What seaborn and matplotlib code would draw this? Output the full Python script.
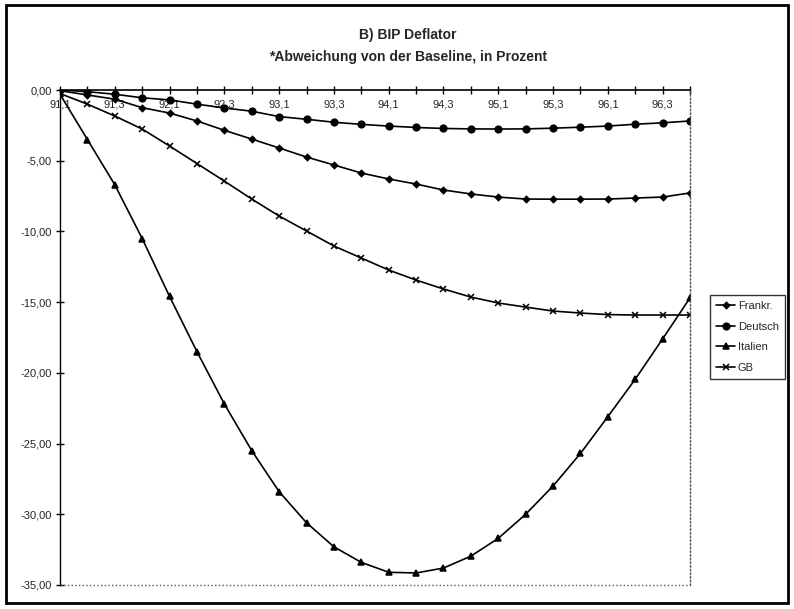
import matplotlib
matplotlib.use("Agg")
import matplotlib.pyplot as plt
import seaborn as sns
import pandas as pd
from matplotlib.patches import Rectangle

quarters = ["91,1", "91,2", "91,3", "91,4", "92,1", "92,2", "92,3", "92,4",
            "93,1", "93,2", "93,3", "93,4", "94,1", "94,2", "94,3", "94,4",
            "95,1", "95,2", "95,3", "95,4", "96,1", "96,2", "96,3", "96,4"]

frankr = [-0.05, -0.35, -0.65, -1.25, -1.63, -2.19, -2.85, -3.47, -4.10, -4.74,
          -5.30, -5.87, -6.29, -6.65, -7.07, -7.35, -7.57, -7.71, -7.72, -7.72,
          -7.71, -7.64, -7.57, -7.28]
deutsch = [0.00, -0.12, -0.30, -0.55, -0.70, -1.00, -1.27, -1.50, -1.88, -2.07,
           -2.28, -2.43, -2.55, -2.65, -2.72, -2.75, -2.76, -2.75, -2.70, -2.63,
           -2.55, -2.42, -2.32, -2.19]
italien = [-0.30, -3.50, -6.70, -10.50, -14.60, -18.50, -22.20, -25.50, -28.40,
           -30.60, -32.30, -33.40, -34.10, -34.15, -33.80, -32.96, -31.70, -30.00,
           -28.00, -25.70, -23.10, -20.45, -17.60, -14.70]
gb = [-0.25, -1.00, -1.84, -2.76, -3.96, -5.20, -6.44, -7.71, -8.91, -9.97,
      -11.03, -11.88, -12.73, -13.44, -14.07, -14.64, -15.06, -15.35, -15.63,
      -15.77, -15.88, -15.91, -15.91, -15.91]

series_names = ["Frankr.", "Deutsch", "Italien", "GB"]
series_values = [frankr, deutsch, italien, gb]

rows = []
for name, vals in zip(series_names, series_values):
    for i, v in enumerate(vals):
        rows.append({"idx": i, "value": v, "Land": name})
df = pd.DataFrame(rows)

sns.set_theme(style="white")
plt.rcParams["font.family"] = ["Liberation Sans", "DejaVu Sans"]

fig = plt.figure(figsize=(7.94, 6.09), dpi=100)
ax = fig.add_axes([60 / 794, 1 - 585 / 609, 630 / 794, 495 / 609])

markers = {"Frankr.": "D", "Deutsch": "o", "Italien": "^", "GB": "x"}
sizes_ms = {"Frankr.": 3.2, "Deutsch": 4.8, "Italien": 4.2, "GB": 4.0}
for name in series_names:
    sub = df[df["Land"] == name]
    sns.lineplot(data=sub, x="idx", y="value", ax=ax, color="black",
                 linewidth=1.2, marker=markers[name], markersize=sizes_ms[name],
                 markeredgecolor="black", markerfacecolor="black",
                 markeredgewidth=1.1, label=name)

ax.spines["bottom"].set_position(("data", 0))
ax.spines["bottom"].set_color("black")
ax.spines["bottom"].set_linewidth(1.2)
ax.spines["left"].set_color("black")
ax.spines["left"].set_linewidth(1.0)
ax.spines["top"].set_visible(False)
ax.spines["right"].set_color("#555555")
ax.spines["right"].set_linestyle(":")
ax.spines["right"].set_linewidth(1.0)
ax.axhline(-35, color="#555555", linestyle=":", linewidth=1.0, clip_on=False)

ax.set_xlim(0, len(quarters) - 1)
ax.set_ylim(-35, 0)
ax.set_xlabel("")
ax.set_ylabel("")

ax.set_xticks(range(len(quarters)))
ax.set_xticklabels([q if i % 2 == 0 else "" for i, q in enumerate(quarters)])
yt = [0, -5, -10, -15, -20, -25, -30, -35]
ax.set_yticks(yt)
ax.set_yticklabels([f"{v:.2f}".replace(".", ",") for v in yt])

ax.tick_params(axis="x", direction="inout", length=6, width=1, color="black",
               pad=4, bottom=True, labelsize=8)
ax.tick_params(axis="y", direction="inout", length=6, width=1, color="black",
               pad=3, left=True, labelsize=8)

fig.text(408 / 794, 1 - 35 / 609, "B) BIP Deflator", ha="center", va="center",
         fontsize=10, fontweight="bold")
fig.text(408 / 794, 1 - 57 / 609, "*Abweichung von der Baseline, in Prozent",
         ha="center", va="center", fontsize=10, fontweight="bold")

leg = ax.legend(loc="upper left", bbox_to_anchor=(710 / 794, 1 - 295 / 609),
                bbox_transform=fig.transFigure, frameon=True, fancybox=False,
                edgecolor="black", fontsize=8, handlelength=1.7,
                borderpad=0.55, labelspacing=0.95, handletextpad=0.25,
                borderaxespad=0)
leg.get_frame().set_linewidth(1.0)

fig.patches.append(Rectangle((6 / 794, 1 - 603 / 609), 782 / 794, 598 / 609,
                             transform=fig.transFigure, fill=False,
                             edgecolor="black", linewidth=2.0))

fig.savefig("out.png", dpi=100)
